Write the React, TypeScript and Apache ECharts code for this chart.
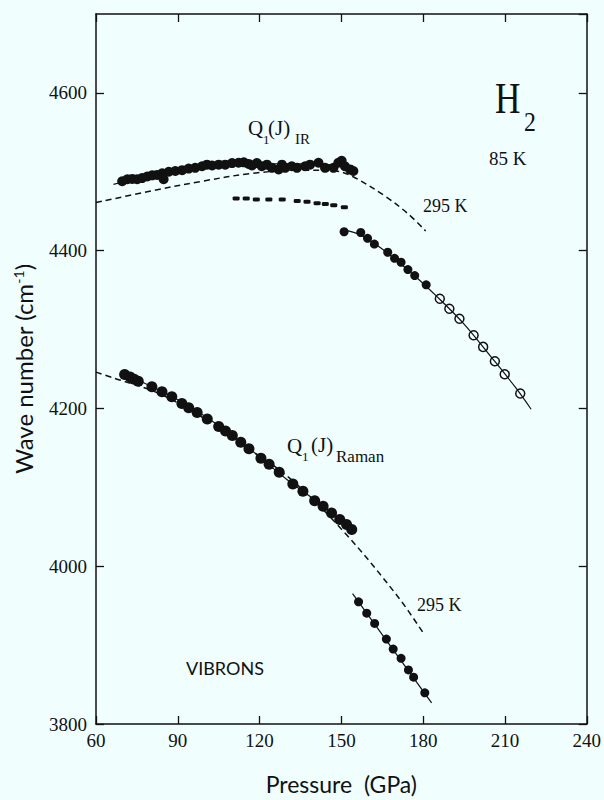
import React, { useEffect, useRef } from "react";
import * as echarts from "echarts";

// Axis ticks
const pressureTicks = [60, 90, 120, 150, 180, 210, 240];
const waveTicks = [3800, 4000, 4200, 4400, 4600, 4700];

// Q1(J) infrared vibron, 85 K, low-pressure branch
const irP = [69.6, 71.5, 73.3, 75.1, 76.9, 78.8, 80.6, 82.4, 84.3, 84.8, 86.7, 89.1, 91.6, 94.0, 96.4, 98.9, 100.7, 102.6, 105.0, 107.4, 109.9, 112.3, 114.2, 116.0, 117.2, 119.0, 120.8, 122.7, 124.5, 127.0, 128.2, 129.4, 131.8, 133.7, 136.7, 138.5, 141.6, 144.0, 147.1, 148.9, 150.1, 151.3, 153.2, 154.4];
const irW = [4488, 4490.5, 4491, 4490.5, 4492, 4494, 4495.5, 4496, 4498, 4490.5, 4500, 4501, 4502, 4504, 4505, 4507, 4509, 4508, 4509, 4509, 4511, 4511.5, 4512, 4510, 4508, 4511, 4507, 4509, 4505, 4503, 4509, 4505, 4507, 4505, 4507, 4509, 4511.5, 4505, 4505, 4511.5, 4514, 4507, 4503, 4501];
const irFitP = [66.4, 80, 100, 120, 140, 150, 156];
const irFitW = [4484, 4495, 4505, 4510, 4510, 4507, 4502];

// weak IR feature below the main branch
const irWeakP = [111.4, 115.1, 118.8, 123.4, 128.3, 133.8, 137.4, 141.1, 144.1, 147.2, 151.1];
const irWeakW = [4466, 4466, 4465, 4465, 4465, 4463, 4462, 4460, 4459, 4457.6, 4455];

// IR vibron above 150 GPa (filled: 85 K run, open: second run)
const irHiP = [151.0, 157.1, 159.6, 162.1, 167.0, 169.5, 171.9, 174.4, 176.9, 181.1];
const irHiW = [4424, 4423, 4415.6, 4408.4, 4398, 4390.3, 4385.3, 4376, 4368.4, 4356.7];
const irOpenP = [186.1, 189.6, 193.3, 198.5, 202.0, 206.3, 209.9, 215.6];
const irOpenW = [4339, 4326.4, 4313.7, 4292.7, 4278, 4259.8, 4243.4, 4219];
const irHiFitP = [151, 157, 165, 175, 185, 195, 205, 214, 219.6];
const irHiFitW = [4426, 4420, 4402, 4374, 4342, 4307, 4265, 4226, 4199];

// IR vibron at 295 K
const ir295P = [60, 80.7, 98.9, 117.2, 135.4, 147.6, 153.8, 166.1, 174.7, 180.9];
const ir295W = [4461, 4476, 4488, 4498, 4502, 4501, 4494.6, 4469, 4446, 4425];

// Q1(J) Raman vibron, 85 K
const ramanP = [70.5, 72.5, 74.0, 75.5, 80.5, 84.2, 87.8, 91.5, 94.0, 97.1, 100.8, 105.0, 107.5, 110.0, 113.1, 116.1, 120.5, 123.5, 127.2, 132.2, 135.9, 140.2, 143.3, 146.4, 149.4, 151.9, 153.8];
const ramanW = [4243, 4240, 4237, 4234.6, 4227.5, 4221.2, 4214.9, 4206.4, 4201, 4195, 4186.6, 4177, 4171.5, 4165.7, 4157.2, 4148.8, 4137, 4129.4, 4119, 4104.2, 4095, 4083.1, 4076, 4067.6, 4059.1, 4052.8, 4046.5];
const ramanFitP = [70, 90, 110, 130, 145, 154];
const ramanFitW = [4244, 4211, 4166, 4110, 4072, 4046];

// Raman vibron at 295 K
const raman295P = [60, 67, 81.7, 96.5, 113.7, 130.9, 150.7, 170.6, 180.3];
const raman295W = [4246, 4238, 4221, 4194, 4154, 4112, 4044.5, 3962, 3914];

// Raman vibron above 150 GPa
const ramanLowP = [156.3, 159.3, 162.2, 166.5, 169.0, 171.9, 174.6, 176.5, 180.6];
const ramanLowW = [3954.9, 3940.5, 3927.5, 3907.7, 3895, 3883.3, 3868.5, 3859.3, 3839.5];
const ramanLowFitP = [154.1, 183.1];
const ramanLowFitW = [3965.3, 3826.9];

const pair = (ps: number[], ws: number[]) => ps.map((p, i) => [p, ws[i]]);

const INK = "#111";
const SERIF = "Liberation Serif";
const SANS = "Lato";

const solid = (name: string, ps: number[], ws: number[]) => ({
  name,
  type: "line",
  data: pair(ps, ws),
  smooth: 0.35,
  symbol: "none",
  lineStyle: { color: INK, width: 1.2 },
  z: 2,
});

const dashed = (name: string, ps: number[], ws: number[]) => ({
  name,
  type: "line",
  data: pair(ps, ws),
  smooth: 0.35,
  symbol: "none",
  lineStyle: { color: INK, width: 1.5, type: [6, 4] },
  z: 2,
});

const dots = (name: string, ps: number[], ws: number[], size: any, symbol = "circle") => ({
  name,
  type: "scatter",
  data: pair(ps, ws),
  symbol,
  symbolSize: size,
  itemStyle: { color: INK, opacity: 1 },
  z: 3,
});

const text = (t: string, x: number, y: number, size: number, family = SERIF, scaleX = 1) => ({
  type: "text",
  x,
  y,
  scaleX,
  style: {
    text: t,
    fontSize: size,
    fontFamily: family,
    fill: INK,
    align: "left",
    verticalAlign: "middle",
    textAlign: "left",
    textVerticalAlign: "middle",
  },
});

export default function App() {
  const ref = useRef<HTMLDivElement>(null);

  useEffect(() => {
    if (!ref.current) return;
    const chart = echarts.init(ref.current, null, { renderer: "svg" });

    const xMin = pressureTicks[0];
    const xMax = pressureTicks[pressureTicks.length - 1];
    const xStep = pressureTicks[1] - pressureTicks[0];
    const yMin = waveTicks[0];
    const yMax = waveTicks[waveTicks.length - 1];
    const yStep = waveTicks[1] - waveTicks[0];

    const frameLine = { show: true, lineStyle: { color: INK, width: 1.5 } };
    const tick = { show: true, inside: true, length: 8, lineStyle: { color: INK, width: 1.3 } };

    chart.setOption({
      animation: false,
      backgroundColor: "#f0fefe",
      grid: { left: 96, right: 16, top: 14, bottom: 73 },
      xAxis: [
        {
          type: "value",
          min: xMin,
          max: xMax,
          interval: xStep,
          axisLine: frameLine,
          axisTick: tick,
          splitLine: { show: false },
          axisLabel: { color: INK, fontFamily: SERIF, fontSize: 19, margin: 7, formatter: (v: number) => String(v) },
          name: "Pressure  (GPa)",
          nameLocation: "middle",
          nameGap: 48,
          nameTextStyle: { color: INK, fontFamily: SANS, fontSize: 23 },
        },
        {
          type: "value",
          position: "top",
          min: xMin,
          max: xMax,
          interval: xStep,
          axisLine: frameLine,
          axisTick: tick,
          splitLine: { show: false },
          axisLabel: { show: false },
        },
      ],
      yAxis: [
        {
          type: "value",
          min: yMin,
          max: yMax,
          interval: yStep,
          axisLine: frameLine,
          axisTick: tick,
          splitLine: { show: false },
          axisLabel: {
            color: INK,
            fontFamily: SERIF,
            fontSize: 19,
            margin: 9,
            showMaxLabel: false,
            formatter: (v: number) => String(v),
          },
          name: "{a|Wave number (cm}{s|-1}{a|)}",
          nameLocation: "middle",
          nameGap: 61,
          nameRotate: 90,
          nameTextStyle: {
            color: INK,
            rich: {
              a: { fontFamily: SANS, fontSize: 24, color: INK },
              s: { fontFamily: SANS, fontSize: 14, color: INK, verticalAlign: "top" },
            },
          },
        },
        {
          type: "value",
          position: "right",
          min: yMin,
          max: yMax,
          interval: yStep,
          axisLine: frameLine,
          axisTick: tick,
          splitLine: { show: false },
          axisLabel: { show: false },
        },
      ],
      series: [
        dashed("IR 295 K", ir295P, ir295W),
        dashed("Raman 295 K", raman295P, raman295W),
        solid("IR fit", irFitP, irFitW),
        solid("IR high fit", irHiFitP, irHiFitW),
        solid("Raman fit", ramanFitP, ramanFitW),
        solid("Raman high fit", ramanLowFitP, ramanLowFitW),
        dots("IR 85 K", irP, irW, 10),
        dots("IR weak", irWeakP, irWeakW, [7, 4], "roundRect"),
        dots("IR high 85 K", irHiP, irHiW, 9),
        {
          name: "IR high open",
          type: "scatter",
          data: pair(irOpenP, irOpenW),
          symbol: "circle",
          symbolSize: 9,
          itemStyle: { color: "rgba(0,0,0,0)", borderColor: INK, borderWidth: 1.5, opacity: 1 },
          z: 3,
        },
        dots("Raman 85 K", ramanP, ramanW, 11),
        dots("Raman high", ramanLowP, ramanLowW, 9),
      ],
      graphic: {
        elements: [
          text("Q", 248, 128, 21),
          text("1", 263, 139, 13),
          text("(J)", 268, 128, 21),
          text("IR", 295, 139, 15),
          text("Q", 287, 446, 21),
          text("1", 302, 456, 13),
          text("(J)", 311, 445, 21),
          text("Raman", 336, 456, 17),
          text("H", 495, 98, 44, SERIF, 0.8),
          text("2", 524, 122, 28, SERIF, 0.85),
          text("85 K", 489, 158, 19),
          text("295 K", 423, 206, 18),
          text("295 K", 417, 605, 18),
          text("VIBRONS", 186, 668, 18, SANS),
        ],
      },
    });

    return () => chart.dispose();
  }, []);

  return (
    <div
      ref={ref}
      style={{ position: "absolute", left: 0, top: 0, width: 604, height: 800 }}
    />
  );
}
